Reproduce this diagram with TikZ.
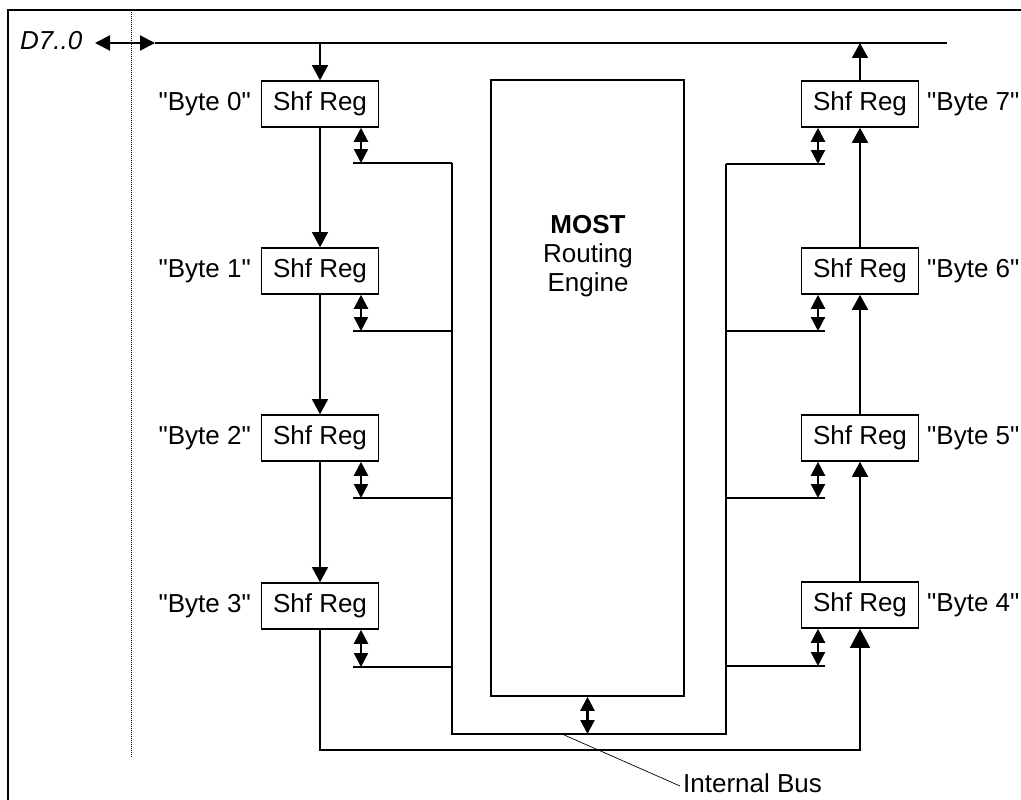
\documentclass[tikz,border=0pt]{standalone}
\usepackage{fontspec}
\setmainfont{Liberation Sans}[Ligatures=TeXOff]
\usetikzlibrary{arrows.meta}
\begin{document}
\begin{tikzpicture}[x=1pt,y=-1pt,
 txt/.style={font=\fontsize{26}{29}\selectfont,inner sep=0pt},
 reg/.style={txt,draw,line width=1.6pt,minimum width=117pt,minimum height=46pt},
 busln/.style={line width=2.3pt},
 chain/.style={line width=1.6pt,-{Triangle[width=16pt,length=15pt]}},
 bigtip/.style={line width=1.6pt,-{Triangle[width=20pt,length=19pt]}},
 dblarr/.style={line width=2.3pt,{Triangle[width=14pt,length=14pt]}-{Triangle[width=14pt,length=14pt]}},
]
\useasboundingbox (0,0) rectangle (1021,800);
% frame
\draw[line width=2.5pt] (8,800) -- (8,10) -- (1021,10);
\draw[line width=1pt,dash pattern=on 1pt off 1pt] (131,10) -- (131,758);

% external data bus
\node[txt,font=\fontsize{26}{29}\selectfont\itshape,anchor=base west] (d) at (20,50) {D7..0};
\coordinate (dl) at (95,43);
\coordinate (dr) at (155,43);
\coordinate (be) at (947,43);
\draw[line width=2pt,{Triangle[width=15pt,length=15pt]}-{Triangle[width=15pt,length=15pt]}] (dl) -- (dr);
\draw[line width=2pt] (dr) -- (be);

% shift registers
\node[reg] (r0) at (320,104) {Shf Reg};
\node[reg] (r1) at (320,271) {Shf Reg};
\node[reg] (r2) at (320,438) {Shf Reg};
\node[reg] (r3) at (320,606) {Shf Reg};
\node[reg] (r7) at (860,104) {Shf Reg};
\node[reg] (r6) at (860,271) {Shf Reg};
\node[reg] (r5) at (860,438) {Shf Reg};
\node[reg] (r4) at (860,605) {Shf Reg};

\node[txt,anchor=east] (l0) at (251,104) {"Byte 0"};
\node[txt,anchor=east] (l1) at (251,271) {"Byte 1"};
\node[txt,anchor=east] (l2) at (251,438) {"Byte 2"};
\node[txt,anchor=east] (l3) at (251,606) {"Byte 3"};
\node[txt,anchor=west] (l7) at (927,104) {"Byte 7"};
\node[txt,anchor=west] (l6) at (927,271) {"Byte 6"};
\node[txt,anchor=west] (l5) at (927,438) {"Byte 5"};
\node[txt,anchor=west] (l4) at (927,605) {"Byte 4"};

% routing engine
\node[draw,line width=1.6pt,minimum width=193pt,minimum height=616pt,inner sep=0pt] (eng) at (587.5,388) {};
\node[txt,align=center] (engt) at (588,256) {\textbf{MOST}\\Routing\\Engine};

% data bus connections
\draw[chain] (r0.north |- dr) -- (r0.north);
\draw[chain] (r7.north) -- (r7.north |- be);
\draw[chain] (r0.south) -- (r1.north);
\draw[chain] (r1.south) -- (r2.north);
\draw[chain] (r2.south) -- (r3.north);
\draw[chain] (r4.north) -- (r5.south);
\draw[chain] (r5.north) -- (r6.south);
\draw[chain] (r6.north) -- (r7.south);
\coordinate (lp) at (860,750);
\draw[bigtip] (r3.south) |- (r4.south |- lp) -- (r4.south);

% internal bus
\coordinate (bl) at (452,734);
\coordinate (br) at (726,734);
\foreach \i/\y in {0/163,1/331,2/498,3/667}{
  \coordinate (hl\i) at (353,\y);
  \coordinate (vl\i) at (452,\y);
  \coordinate (al\i) at (361,\y);
}
\foreach \i/\y in {7/164,6/331,5/498,4/666}{
  \coordinate (hr\i) at (825,\y);
  \coordinate (vr\i) at (726,\y);
  \coordinate (ar\i) at (818,\y);
}
\draw[busln] (vl0) -- (bl) -- (br) -- (vr7);
\foreach \i in {0,1,2,3}{
  \draw[busln] (hl\i) -- (vl\i);
}
\foreach \i in {4,5,6,7}{
  \draw[busln] (vr\i) -- (hr\i);
}
\draw[dblarr] (al0 |- r0.south) -- (al0);
\draw[dblarr] (al1 |- r1.south) -- (al1);
\draw[dblarr] (al2 |- r2.south) -- (al2);
\draw[dblarr] (al3 |- r3.south) -- (al3);
\draw[dblarr] (ar7 |- r7.south) -- (ar7);
\draw[dblarr] (ar6 |- r6.south) -- (ar6);
\draw[dblarr] (ar5 |- r5.south) -- (ar5);
\draw[dblarr] (ar4 |- r4.south) -- (ar4);
\draw[dblarr] (eng.south) -- (eng.south |- bl);

% label
\coordinate (ib) at (562,734);
\node[txt,anchor=west] (ibl) at (683,783) {Internal Bus};
\draw[line width=0.7pt] (ib) -- ([xshift=-3pt,yshift=-3pt]ibl.west);
\end{tikzpicture}
\end{document}
